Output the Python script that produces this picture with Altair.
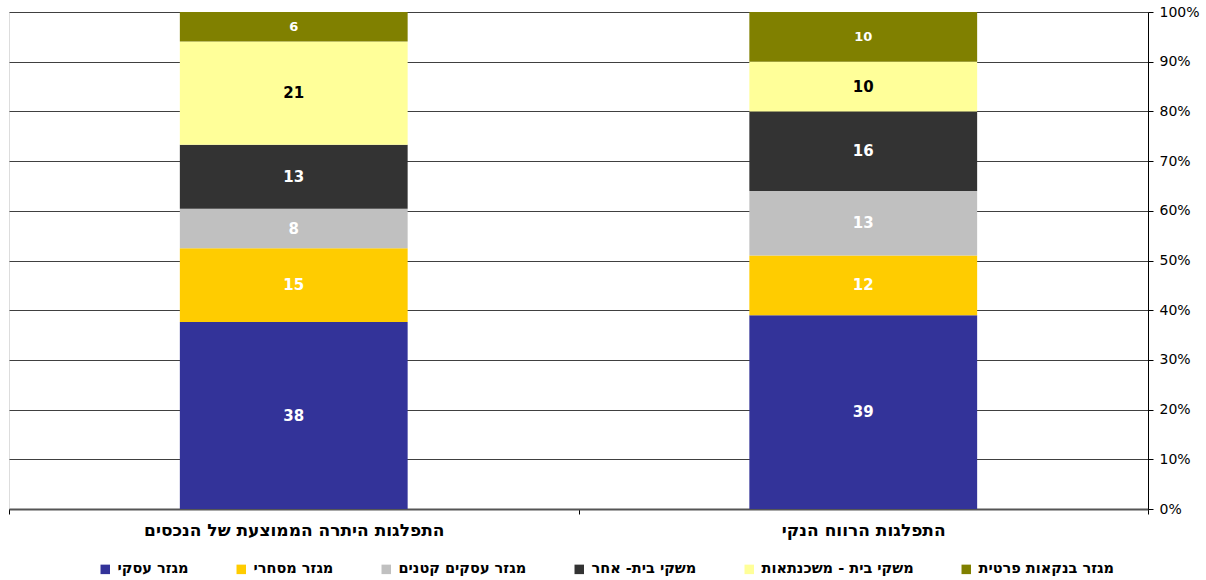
import altair as alt
import pandas as pd

categories = ["התפלגות היתרה הממוצעת של הנכסים", "התפלגות הרווח הנקי"]
segments = ["מגזר עסקי", "מגזר מסחרי", "מגזר עסקים קטנים", "משקי בית- אחר", "משקי בית - משכנתאות", "מגזר בנקאות פרטית"]
colors = ["#333399", "#FFCC00", "#C0C0C0", "#333333", "#FFFF99", "#808000"]
assets_values = [38, 15, 8, 13, 21, 6]
profit_values = [39, 12, 13, 16, 10, 10]

rows = []
for cat, vals in zip(categories, [assets_values, profit_values]):
    for i, (seg, v) in enumerate(zip(segments, vals)):
        rows.append({"cat": cat, "seg": seg, "idx": i, "value": v})
df = pd.DataFrame(rows)

FONT = "DejaVu Sans"

base = alt.Chart(df).transform_stack(
    stack="value", groupby=["cat"], sort=[alt.SortField("idx", order="ascending")],
    as_=["v0", "v1"], offset="normalize"
).transform_calculate(mid="(datum.v0 + datum.v1) / 2")

x_enc = alt.X("cat:N", sort=categories, title=None,
              scale=alt.Scale(paddingInner=0, paddingOuter=0),
              axis=alt.Axis(orient="bottom", labelAngle=0, labelFont=FONT, labelFontSize=17,
                            labelFontWeight="bold", labelColor="black", labelPadding=8,
                            labelLimit=600,
                            tickBand="extent", tickSize=5, tickColor="black",
                            domainColor="#555555", domainWidth=2))

bars = base.mark_bar(width=alt.RelativeBandSize(0.4)).encode(
    x=x_enc,
    y=alt.Y("v0:Q", scale=alt.Scale(domain=[0, 1]), title=None,
            axis=alt.Axis(orient="right", format="%", values=[i / 10 for i in range(11)],
                          labelFont=FONT, labelFontSize=14, labelColor="black", labelPadding=6,
                          tickSize=5, tickColor="black", domainColor="black",
                          grid=True, gridColor="#404040", gridWidth=1)),
    y2="v1:Q",
    color=alt.Color("seg:N", scale=alt.Scale(domain=segments, range=colors),
                    legend=alt.Legend(title=None, orient="none", direction="horizontal",
                                      legendX=89, legendY=550, symbolType="square",
                                      symbolSize=90, symbolStrokeWidth=0, labelFont=FONT,
                                      labelFontSize=14.5, labelFontWeight="bold",
                                      labelColor="black", columnPadding=45, labelOffset=5,
                                      labelLimit=400, columns=6)),
    order=alt.Order("idx:Q", sort="ascending"),
)

labels = base.mark_text(font=FONT, fontWeight="bold", baseline="middle", align="center").encode(
    x=alt.X("cat:N", sort=categories),
    y=alt.Y("mid:Q"),
    text=alt.Text("value:Q"),
    color=alt.condition(alt.datum.idx == 4, alt.value("black"), alt.value("white")),
    size=alt.condition(alt.datum.idx == 5, alt.value(13), alt.value(15)),
)

chart = alt.layer(bars, labels).properties(
    width=1139, height=497,
    padding={"left": 8, "top": 5, "right": 0, "bottom": 0},
).configure_view(stroke="#808080", strokeWidth=1).configure(background="white")

chart.save("out.html", embed_options={"renderer": "svg", "actions": False})
